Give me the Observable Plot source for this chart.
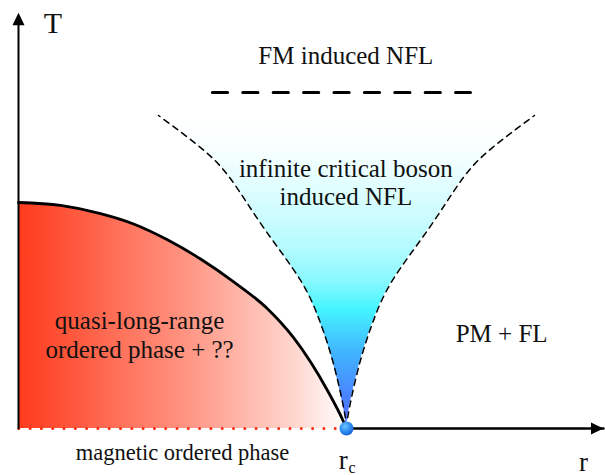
<!DOCTYPE html>
<html><head><meta charset="utf-8">
<script src="https://cdn.jsdelivr.net/npm/d3@7"></script>
<script src="https://cdn.jsdelivr.net/npm/@observablehq/plot@0.6"></script>
<style>
body{margin:0;background:#fff}
#chart svg text, #chart svg tspan { font-family: "Liberation Serif", "DejaVu Serif", serif !important; }
</style>
</head><body><div id="chart"></div>
<script>
// ---- data (r in units of r_c, T in units of the dome maximum) ----
const rc = 1;
const rAxisEnd = 1.7835;
const tAxisEnd = 1.84;

const domeR = [0, 0.128, 0.25, 0.351, 0.454, 0.555, 0.655, 0.759, 0.838, 0.942, 0.991, 1];
const domeT = [1.0, 0.987, 0.951, 0.905, 0.835, 0.75, 0.65, 0.53, 0.403, 0.168, 0.03, 0];

const wedgeT    = [0, 0.093, 0.288, 0.465, 0.655, 0.889, 1.106, 1.243, 1.385];
const wedgeHalf = [0, 0.009, 0.040, 0.079, 0.140, 0.253, 0.354, 0.445, 0.573];

const fmLineR = [0.591, 1.378];
const fmLineT = 1.487;

const mainLabels = ["FM induced NFL", "infinite critical boson\ninduced NFL", "quasi-long-range\nordered phase + ??", "PM + FL"];
const mainLabelR = [0.998, 0.998, 0.369, 1.473];
const mainLabelT = [1.615, 0.987, 0.314, 0.381];

// ---- build tables ----
const dome = domeR.map((r, i) => ({r, T: domeT[i]}));
const wedge = wedgeT.map((T, i) => ({T, left: rc - wedgeHalf[i], right: rc + wedgeHalf[i]}));
const fmLine = fmLineR.map(r => ({r, T: fmLineT}));
const labels = mainLabels.map((text, i) => ({text, r: mainLabelR[i], T: mainLabelT[i]}));

const arrowHead = {draw(ctx) { ctx.moveTo(0, 0); ctx.lineTo(6, 12.5); ctx.lineTo(-6, 12.5); ctx.closePath(); }};
const serif = "'Liberation Serif', 'DejaVu Serif', serif";

const chart = Plot.plot({
  width: 605, height: 475,
  marginTop: 0, marginBottom: 0, marginLeft: 0, marginRight: 0,
  x: {domain: [0, rAxisEnd], range: [18, 603], axis: null},
  y: {domain: [0, tAxisEnd], range: [428, 12.16], axis: null},
  style: {background: "white", overflow: "visible", fontFamily: serif},
  marks: [
    Plot.areaX(wedge, {y: "T", x1: "left", x2: "right", fill: "url(#wedgeGrad)", curve: "natural"}),
    Plot.areaY(dome, {x: "r", y: "T", fill: "url(#domeGrad)", curve: "monotone-x"}),
    Plot.line([{r: rc, T: 0}, {r: 0, T: 0}], {x: "r", y: "T", stroke: "#ff2a0e", strokeWidth: 3, strokeDasharray: "0 11.3", strokeLinecap: "round"}),
    Plot.line([{r: rc, T: 0}, {r: rAxisEnd, T: 0}], {x: "r", y: "T", stroke: "black", strokeWidth: 2.5}),
    Plot.line(dome, {x: "r", y: "T", stroke: "black", strokeWidth: 2.8, curve: "monotone-x"}),
    Plot.line(wedge, {x: "left", y: "T", stroke: "black", strokeWidth: 1.5, strokeDasharray: "6 5", curve: "natural"}),
    Plot.line(wedge, {x: "right", y: "T", stroke: "black", strokeWidth: 1.5, strokeDasharray: "6 5", curve: "natural"}),
    Plot.line(fmLine, {x: "r", y: "T", stroke: "black", strokeWidth: 3, strokeDasharray: "15.2 15.2"}),
    Plot.line([{r: 0, T: 0}, {r: 0, T: tAxisEnd - 0.03}], {x: "r", y: "T", stroke: "black", strokeWidth: 2}),
    Plot.dot([{r: 0, T: tAxisEnd}], {x: "r", y: "T", symbol: arrowHead, r: 5, fill: "black", stroke: "none", rotate: 0}),
    Plot.dot([{r: rAxisEnd, T: 0}], {x: "r", y: "T", symbol: arrowHead, r: 5, fill: "black", stroke: "none", rotate: 90}),
    Plot.dot([{r: rc, T: 0}], {x: "r", y: "T", r: 7, fill: "url(#dotGrad)", stroke: "none"}),
    Plot.text(labels, {x: "r", y: "T", text: "text", fontFamily: serif, fontSize: 25, lineAnchor: "bottom", lineHeight: 1.15, textAnchor: "middle", fill: "#111"}),
    Plot.text(["magnetic ordered phase"], {x: () => 0.5, y: () => -0.1385, text: d => d, fontFamily: serif, fontSize: 22.5, lineAnchor: "bottom", textAnchor: "middle", fill: "#111"}),
    Plot.text(["T"], {x: () => 0.105, y: () => 1.752, text: d => d, fontFamily: serif, fontSize: 30, lineAnchor: "bottom", textAnchor: "middle", fill: "#111"}),
    Plot.text(["r"], {x: () => 1.7226, y: () => -0.186, text: d => d, fontFamily: serif, fontSize: 27, lineAnchor: "bottom", textAnchor: "middle", fill: "#111"}),
    Plot.text(["r"], {x: () => 0.99, y: () => -0.181, text: d => d, fontFamily: serif, fontSize: 27, lineAnchor: "bottom", textAnchor: "middle", fill: "#111"}),
    Plot.text(["c"], {x: () => 1.017, y: () => -0.196, text: d => d, fontFamily: serif, fontSize: 16, lineAnchor: "bottom", textAnchor: "middle", fill: "#111"})
  ]
});

const defs = d3.select(chart).insert("defs", ":first-child");
function linGrad(id, x2, y2, stops) {
  const g = defs.append("linearGradient").attr("id", id).attr("x1", 0).attr("y1", 0).attr("x2", x2).attr("y2", y2);
  stops.forEach(([o, c]) => g.append("stop").attr("offset", o).attr("stop-color", c));
}
linGrad("domeGrad", 1, 0, [[0, "#ff3b1c"], [0.5, "#ff9280"], [0.85, "#ffd8d0"], [1, "#ffffff"]]);
linGrad("wedgeGrad", 0, 1, [[0, "#ffffff"], [0.11, "#f8ffff"], [0.27, "#d8fdff"], [0.43, "#b2fbff"], [0.53, "#88f9ff"], [0.62, "#45f5ff"], [0.75, "#40b8ff"], [0.91, "#4a80ff"], [1, "#4f66ff"]]);
const rg = defs.append("radialGradient").attr("id", "dotGrad").attr("cx", "0.4").attr("cy", "0.35").attr("r", "0.7");
[[0, "#6cc4ff"], [0.6, "#2a88f0"], [1, "#1a5ccf"]].forEach(([o, c]) => rg.append("stop").attr("offset", o).attr("stop-color", c));

document.getElementById("chart").append(chart);
</script>
</body></html>
